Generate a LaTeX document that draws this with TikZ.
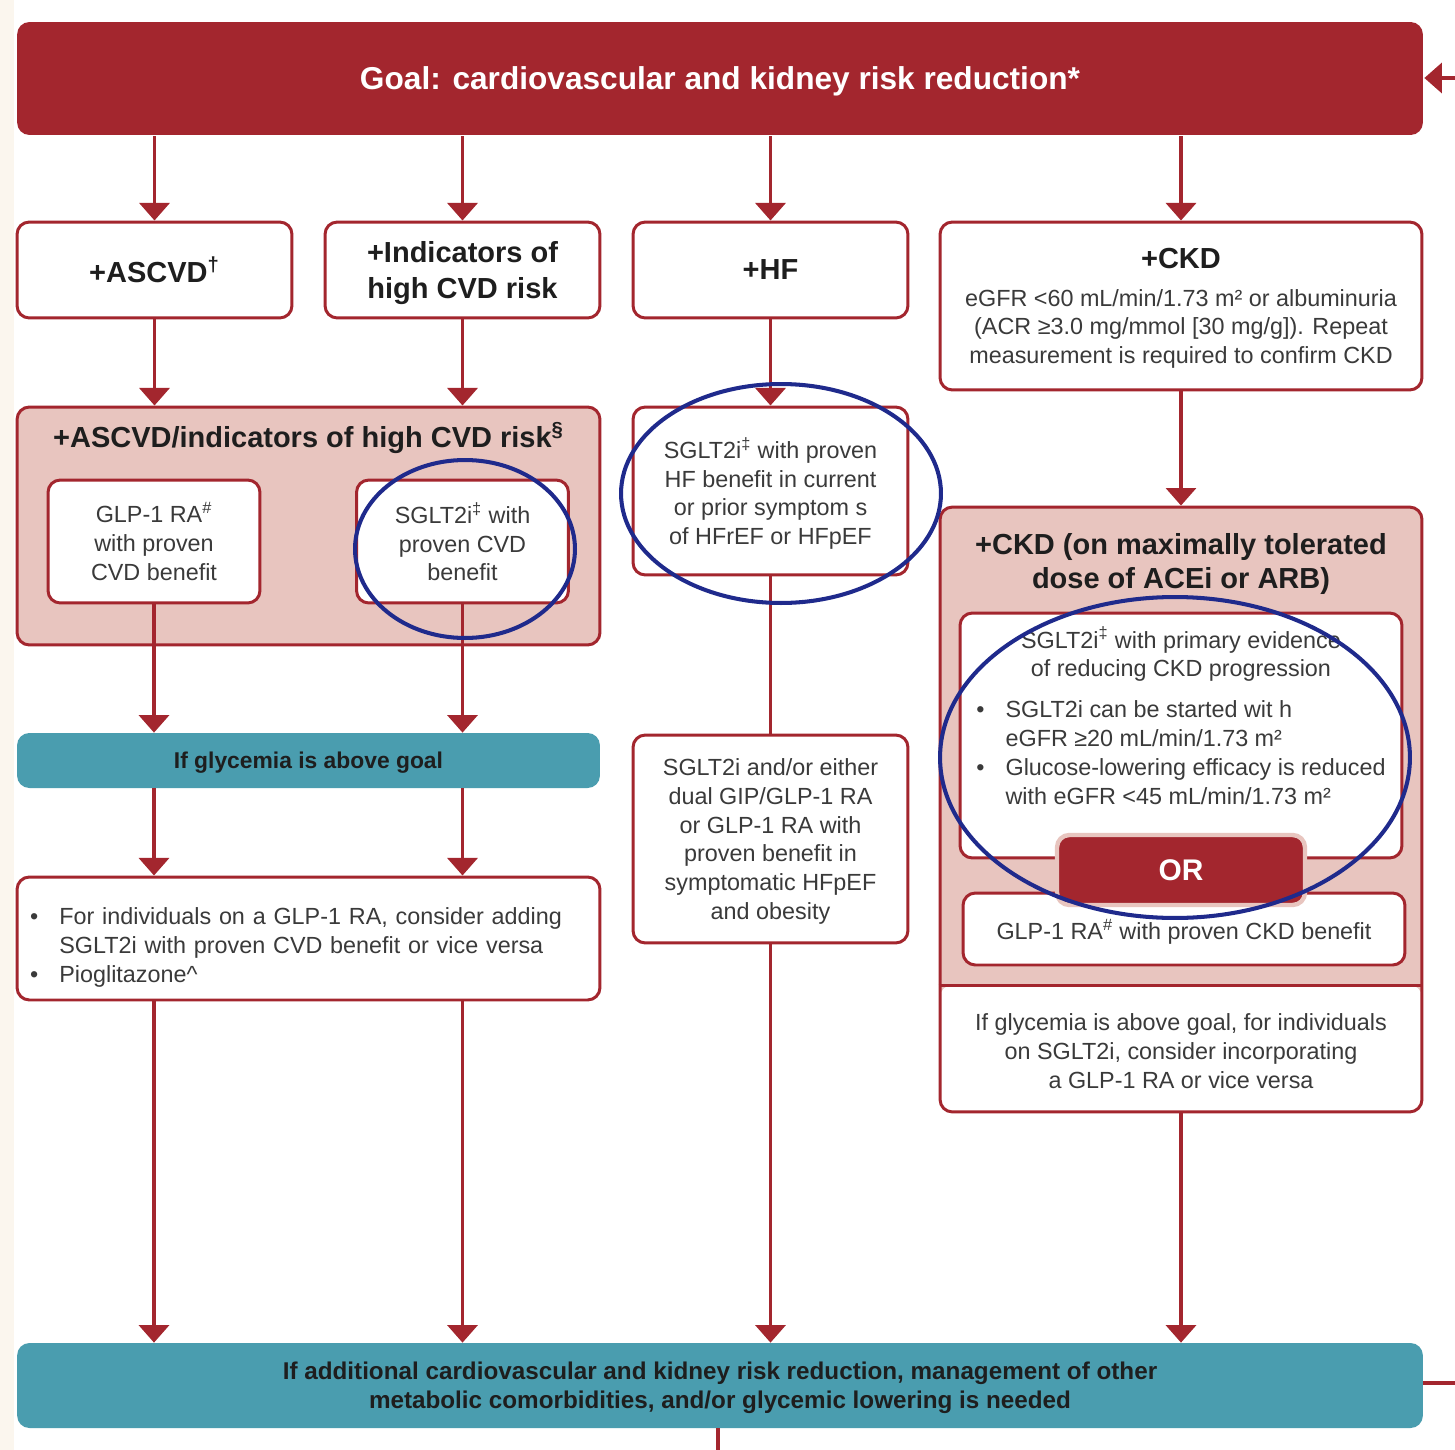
\documentclass[tikz,border=0pt]{standalone}
\usepackage{fontspec}
\setmainfont{Liberation Sans}
\usetikzlibrary{arrows.meta}

\definecolor{adared}{HTML}{A3262E}
\definecolor{adapink}{HTML}{E8C5BF}
\definecolor{adateal}{HTML}{4A9DAF}
\definecolor{adanavy}{HTML}{1F2A8C}
\definecolor{adatext}{HTML}{3A3A3A}
\definecolor{adadark}{HTML}{1E1E1E}
\definecolor{adacream}{HTML}{FBF6EE}

\newcommand{\bodyfont}{\fontsize{13.3}{16.4}\selectfont}
\newcommand{\hdrfont}{\fontsize{16.5}{20}\selectfont\bfseries}

\begin{document}
\begin{tikzpicture}[x=0.02cm,y=-0.02cm,
  box/.style={draw=adared,line width=1.7pt,fill=white,rounded corners=7pt,align=center,inner sep=0pt,text depth=-3pt,text=adatext,font=\bodyfont},
  hdr/.style={box,text depth=-6pt,text=adadark,font=\hdrfont},
  grp/.style={draw=adared,line width=1.7pt,fill=adapink,rounded corners=7pt,inner sep=0pt},
  bar/.style={fill=adateal,rounded corners=7pt,align=center,inner sep=0pt,text depth=-6pt,text=adadark,font=\fontsize{13}{16.4}\selectfont\bfseries},
  link/.style={adared,line width=2.2pt},
  arr/.style={link,-{Triangle[width=17pt,length=10pt]}},
  ring/.style={draw=adanavy,line width=2.3pt}]
  \useasboundingbox (0,0) rectangle (1455,1450);
  \fill[white] (0,0) rectangle (1455,1450);
  \fill[adacream] (0,0) rectangle (14,1450);

  % goal and first row
  \node[box,fill=adared,draw=none,text=white,font=\fontsize{18}{22}\selectfont\bfseries,minimum width=28.12cm,minimum height=2.26cm] (goal) at (720,78.5) {Goal: cardiovascular and kidney risk reduction*};
  \node[hdr,minimum width=5.5cm,minimum height=1.92cm] (ascvd) at (154.5,270) {+ASCVD\textsuperscript{†}};
  \node[hdr,minimum width=5.5cm,minimum height=1.92cm] (ind) at (462.5,270) {+Indicators of\\high CVD risk};
  \node[hdr,minimum width=5.5cm,minimum height=1.92cm] (hf) at (770.5,270) {+HF};
  \node[box,text depth=-6pt,minimum width=9.64cm,minimum height=3.36cm] (ckd) at (1181,306) {{\hdrfont\color{adadark}+CKD}\\[5pt]eGFR <60 mL/min/1.73 m² or albuminuria\\(ACR ≥3.0 mg/mmol [30 mg/g]). Repeat\\measurement is required to confirm CKD};

  % ASCVD / high CVD risk column
  \node[grp,minimum width=11.66cm,minimum height=4.76cm] (cvdgrp) at (308.5,526) {};
  \node[text=adadark,font=\hdrfont] (cvdttl) at (308.5,438) {+ASCVD/indicators of high CVD risk\textsuperscript{§}};
  \node[box,minimum width=4.24cm,minimum height=2.46cm] (glp) at (154,541.5) {GLP-1 RA\textsuperscript{\#}\\with proven\\CVD benefit};
  \node[box,minimum width=4.24cm,minimum height=2.46cm] (sglt) at (462.5,541.5) {SGLT2i\textsuperscript{‡} with\\proven CVD\\benefit};
  \node[bar,minimum width=11.66cm,minimum height=1.1cm] (glyc) at (308.5,760.5) {If glycemia is above goal};
  \node[box,align=left,text depth=10.6pt,text width=11.14cm,minimum width=11.66cm,minimum height=2.46cm] (addbox) at (308.5,938.5) {\begin{tabular}{@{}l@{\hspace{12pt}}l@{}}
    \textbullet & For individuals on a GLP-1 RA, consider adding\\
    & SGLT2i with proven CVD benefit or vice versa\\
    \textbullet & Pioglitazone\textasciicircum
  \end{tabular}};

  % HF column
  \node[box,minimum width=5.5cm,minimum height=3.36cm] (hfsglt) at (770.5,491) {SGLT2i\textsuperscript{‡} with proven\\HF benefit in current\\or prior symptom s\\of HFrEF or HFpEF};
  \node[box,minimum width=5.5cm,minimum height=4.16cm] (hfdual) at (770.5,839) {SGLT2i and/or either\\dual GIP/GLP-1 RA\\or GLP-1 RA with\\proven benefit in\\symptomatic HFpEF\\and obesity};

  % CKD column
  \coordinate (ckdsep) at (1181,985);
  \node[grp,minimum width=9.64cm,minimum height=12.1cm,
    path picture={\fill[white] (path picture bounding box.south west) rectangle (path picture bounding box.east |- ckdsep);}] (ckdgrp) at (1181,809.5) {};
  \draw[adared,line width=1.7pt] (ckdgrp.west |- ckdsep) -- (ckdgrp.east |- ckdsep);
  \node[text=adadark,font=\fontsize{16.5}{19}\selectfont\bfseries,align=center] (ckdttl) at (1181,564) {+CKD (on maximally tolerated\\dose of ACEi or ARB)};
  \node[box,minimum width=8.84cm,minimum height=4.9cm] (ckdsglt) at (1181,735.5) {};
  \node[text=adatext,font=\bodyfont,align=center] (ckdsgltxt) at (1181,720) {SGLT2i\textsuperscript{‡} with primary evidence\\of reducing CKD progression\\[8pt]
    \begin{tabular}{@{}l@{\hspace{12pt}}l@{}}
    \textbullet & SGLT2i can be started wit h\\
    & eGFR ≥20 mL/min/1.73 m²\\
    \textbullet & Glucose-lowering efficacy is reduced\\
    & with eGFR <45 mL/min/1.73 m²
    \end{tabular}};
  \node[box,minimum width=8.84cm,minimum height=1.44cm] (ckdglp) at (1184,929) {GLP-1 RA\textsuperscript{\#} with proven CKD benefit};
  \node[box,fill=adared,draw=adapink,line width=2.5pt,text depth=-6pt,text=white,font=\fontsize{17}{20}\selectfont\bfseries,minimum width=4.96cm,minimum height=1.4cm] (orbox) at (1181,870) {OR};
  \node[text=adatext,font=\bodyfont,align=center] (ckdfoot) at (1181,1051) {If glycemia is above goal, for individuals\\on SGLT2i, consider incorporating\\a GLP-1 RA or vice versa};

  \node[bar,font=\fontsize{13.8}{16.6}\selectfont\bfseries,minimum width=28.12cm,minimum height=1.7cm] (extra) at (720,1385.5) {If additional cardiovascular and kidney risk reduction, management of other\\metabolic comorbidities, and/or glycemic lowering is needed};

  % connectors
  \foreach \n in {ascvd,ind,hf,ckd}
    \draw[arr] (goal.south -| \n.north) -- (\n.north);
  \draw[arr] (ascvd.south) -- (ascvd.south |- cvdgrp.north);
  \draw[arr] (ind.south) -- (ind.south |- cvdgrp.north);
  \draw[arr] (hf.south) -- (hfsglt.north);
  \draw[arr] (ckd.south) -- (ckdgrp.north);
  \draw[arr] (glp.south) -- (glp.south |- glyc.north);
  \draw[arr] (sglt.south) -- (sglt.south |- glyc.north);
  \draw[arr] (glyc.south -| glp) -- (addbox.north -| glp);
  \draw[arr] (glyc.south -| sglt) -- (addbox.north -| sglt);
  \draw[arr] (addbox.south -| glp) -- (extra.north -| glp);
  \draw[arr] (addbox.south -| sglt) -- (extra.north -| sglt);
  \draw[link] (hfsglt.south) -- (hfdual.north);
  \draw[arr] (hfdual.south) -- (hfdual.south |- extra.north);
  \draw[arr] (ckdgrp.south) -- (ckdgrp.south |- extra.north);
  \coordinate (goalin) at (1455,78);
  \coordinate (extraout) at (1455,1383);
  \coordinate (extradown) at (718,1450);
  \draw[arr] (goalin) -- (goal.east |- goalin);
  \draw[link] (extra.east |- extraout) -- (extraout);
  \draw[link] (extra.south -| extradown) -- (extradown);

  % highlight rings
  \draw[ring] (465,549) ellipse [x radius=2.2cm,y radius=1.78cm];
  \draw[ring] (781,493.5) ellipse [x radius=3.2cm,y radius=2.19cm];
  \draw[ring] (1175,757.5) ellipse [x radius=4.7cm,y radius=3.21cm];
\end{tikzpicture}
\end{document}
